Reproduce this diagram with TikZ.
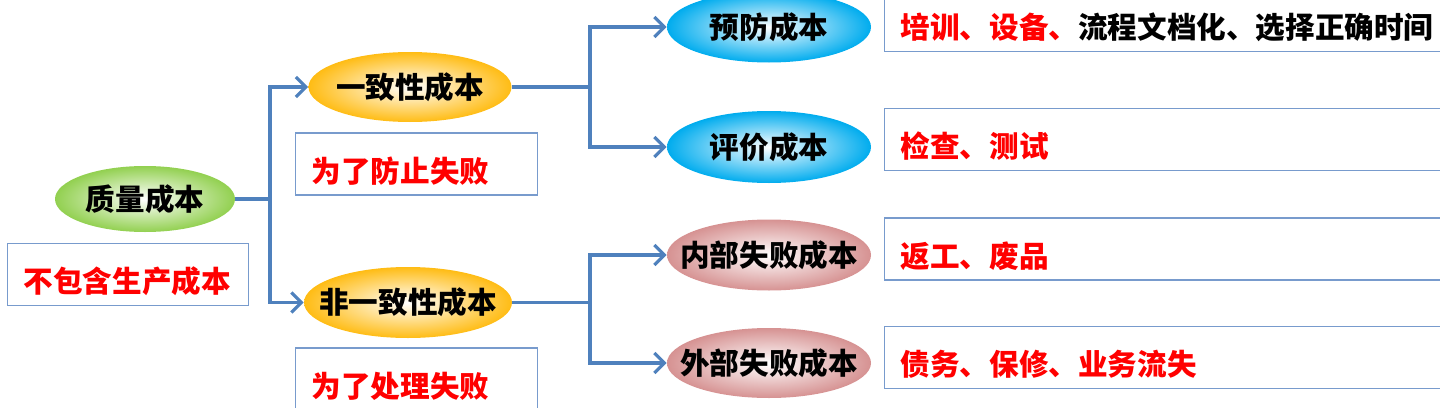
\documentclass[tikz,border=0pt]{standalone}
\usepackage{fontspec}
\newfontfamily\cjk{Noto Sans CJK SC}
\usetikzlibrary{shapes.geometric,arrows.meta}
\definecolor{linkblue}{RGB}{79,129,189}
\definecolor{boxblue}{RGB}{120,155,205}
\definecolor{ovgreen}{RGB}{146,208,80}
\definecolor{ovorange}{RGB}{255,188,20}
\definecolor{ovblue}{RGB}{0,172,238}
\definecolor{ovpink}{RGB}{214,146,146}
\begin{document}
\begin{tikzpicture}[x=0.5pt, y=-0.5pt, >={Straight Barb[length=5pt,width=10pt]},
    oval/.style={ellipse, inner sep=0pt, shading=radial, inner color=white, outer color=#1,
        font=\cjk\bfseries\fontsize{14.8pt}{16pt}\selectfont},
    link/.style={draw=linkblue, line width=1.6pt},
    note/.style={draw=boxblue, line width=0.7pt, anchor=west, inner xsep=8pt, inner ysep=0pt,
        text height=24.6pt, text depth=6.4pt, align=left, text=red,
        font=\cjk\bfseries\fontsize{14.8pt}{16pt}\selectfont}]
        \clip (0,0) rectangle (1440,407);

        % cost ovals
        \node[oval=ovgreen, minimum width=90pt, minimum height=33pt] (quality) at (145,199) {\makebox[0pt]{质量成本}};
        \node[oval=ovorange, minimum width=101.5pt, minimum height=35pt] (conf) at (410,87) {\makebox[0pt]{一致性成本}};
        \node[oval=ovorange, minimum width=104pt, minimum height=35.5pt] (nonconf) at (408,302.5) {\makebox[0pt]{非一致性成本}};
        \node[oval=ovblue, minimum width=102pt, minimum height=35.5pt] (prev) at (769,27) {\makebox[0pt]{预防成本}};
        \node[oval=ovblue, minimum width=102pt, minimum height=36pt] (appr) at (769,147) {\makebox[0pt]{评价成本}};
        \node[oval=ovpink, minimum width=102pt, minimum height=35.5pt] (intfail) at (769,255) {\makebox[0pt]{内部失败成本}};
        \node[oval=ovpink, minimum width=102pt, minimum height=35pt] (extfail) at (769,363) {\makebox[0pt]{外部失败成本}};

        % notes
        \node[note, text width=104.5pt] (noprod) at (7,274.5) {不包含生产成本};
        \node[note, text width=105pt] (prevent) at (295,164) {为了防止失败};
        \node[note, text width=105pt] (handle) at (295,379) {为了处理失败};
        \node[note, text width=277pt] (prevnote) at (884,20.5) {\textcolor{red}{培训、设备、}\textcolor{black}{流程文档化、选择正确时间}};
        \node[note, text width=277pt] (apprnote) at (884,139.5) {检查、测试};
        \node[note, text width=277pt] (intnote) at (884,249) {返工、废品};
        \node[note, text width=277pt] (extnote) at (884,357.5) {债务、保修、业务流失};

        % connectors
        \coordinate (j0) at (270,199);
        \coordinate (j1) at (590,87);
        \coordinate (j2) at (590,302.5);
        \draw[link] (quality) -- (j0);
        \draw[link,->] (j0) |- (conf);
        \draw[link,->] (j0) |- (nonconf);
        \draw[link] (conf) -- (j1);
        \draw[link,->] (j1) |- (prev);
        \draw[link,->] (j1) |- (appr);
        \draw[link] (nonconf) -- (j2);
        \draw[link,->] (j2) |- (intfail);
        \draw[link,->] (j2) |- (extfail);
\end{tikzpicture}
\end{document}
